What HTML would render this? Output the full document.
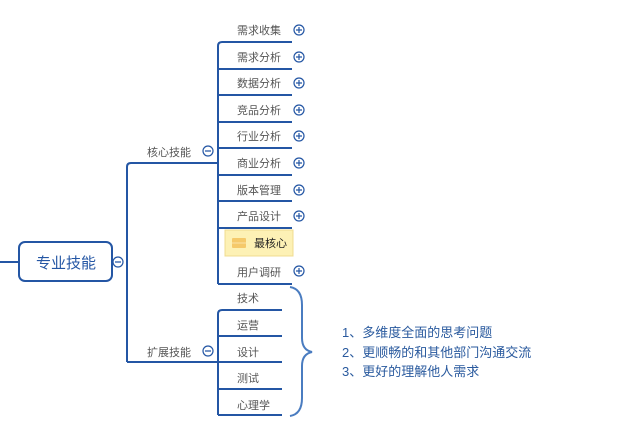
<!DOCTYPE html>
<html><head><meta charset="utf-8"><style>
body{margin:0;background:#fff;width:640px;height:427px;overflow:hidden}
</style></head><body>
<svg width="640" height="427" xmlns="http://www.w3.org/2000/svg" font-family="Liberation Sans, Noto Sans CJK SC, sans-serif">
<g stroke="#2456a4" stroke-width="2" fill="none">
<line x1="0" y1="262" x2="19" y2="262"/>
<rect x="19" y="242" width="93" height="39" rx="6" fill="#fff"/>
<path d="M127 362 V167 Q127 163 131 163 H218"/>
<path d="M127 362 H218"/>
<path d="M218 284 V46 Q218 42 222 42 H292"/>
<path d="M218 69 H292 M218 95 H292 M218 122 H292 M218 148 H292 M218 175 H292 M218 201 H292 M218 228 H292 M218 284 H292"/>
<path d="M218 415 V314 Q218 310 222 310 H282"/>
<path d="M218 336 H282 M218 362 H282 M218 389 H282 M218 415 H282"/>
</g>
<path d="M290 287 Q302 289 302 305 V338 Q302 350 312 352 Q302 354 302 366 V398 Q302 414 290 416" stroke="#4a7cc0" stroke-width="2" fill="none"/>
<text x="66" y="268" font-size="15" fill="#2456a4" text-anchor="middle">专业技能</text>
<g font-size="11" fill="#555">
<text x="147" y="156">核心技能</text>
<text x="147" y="356">扩展技能</text>
<text x="237" y="34">需求收集</text>
<text x="237" y="61">需求分析</text>
<text x="237" y="87">数据分析</text>
<text x="237" y="114">竞品分析</text>
<text x="237" y="140">行业分析</text>
<text x="237" y="167">商业分析</text>
<text x="237" y="194">版本管理</text>
<text x="237" y="220">产品设计</text>
<text x="237" y="276">用户调研</text>
<text x="237" y="302">技术</text>
<text x="237" y="329">运营</text>
<text x="237" y="356">设计</text>
<text x="237" y="382">测试</text>
<text x="237" y="409">心理学</text>
</g>
<rect x="225" y="230" width="68" height="26" fill="#fdf1b5" stroke="#f0dc90" stroke-width="1"/>
<rect x="232" y="238" width="14" height="10" rx="1" fill="#f5c96a"/>
<line x1="232" y1="243" x2="246" y2="243" stroke="#fbe3a8"/>
<text x="254" y="247" font-size="11" fill="#222">最核心</text>
<g stroke="#2456a4" stroke-width="1.2" fill="#fff">
<circle cx="208" cy="151" r="5"/><circle cx="118" cy="262" r="5"/><circle cx="208" cy="351" r="5"/>
<circle cx="299" cy="30" r="5"/><circle cx="299" cy="57" r="5"/><circle cx="299" cy="83" r="5"/><circle cx="299" cy="110" r="5"/><circle cx="299" cy="136" r="5"/><circle cx="299" cy="163" r="5"/><circle cx="299" cy="190" r="5"/><circle cx="299" cy="216" r="5"/><circle cx="299" cy="271" r="5"/>
</g>
<g stroke="#2456a4" stroke-width="1.2">
<path d="M205 151h6M115 262h6M205 351h6"/>
<path d="M296 30h6M299 27v6M296 57h6M299 54v6M296 83h6M299 80v6M296 110h6M299 107v6M296 136h6M299 133v6M296 163h6M299 160v6M296 190h6M299 187v6M296 216h6M299 213v6M296 271h6M299 268v6"/>
</g>
<g font-size="13" fill="#2a5a9e">
<text x="342" y="337">1、多维度全面的思考问题</text>
<text x="342" y="357">2、更顺畅的和其他部门沟通交流</text>
<text x="342" y="376">3、更好的理解他人需求</text>
</g>
</svg>
</body></html>
